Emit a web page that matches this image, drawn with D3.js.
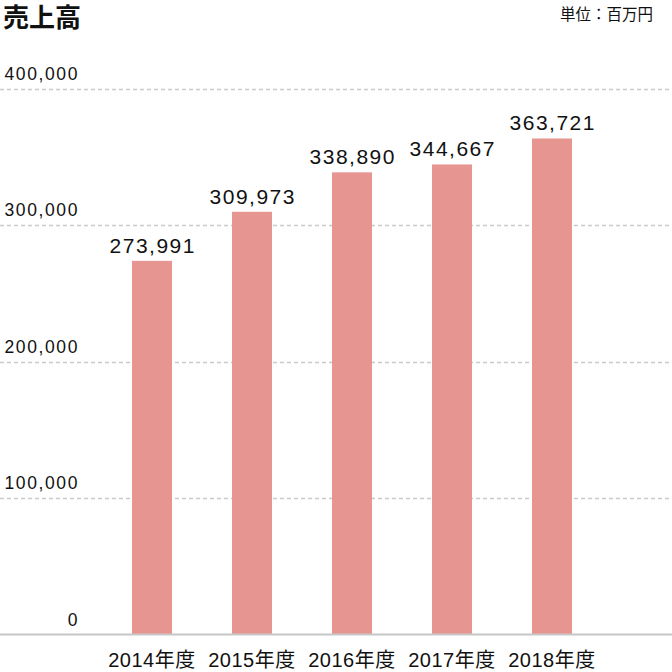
<!DOCTYPE html>
<html><head><meta charset="utf-8">
<script src="https://cdn.jsdelivr.net/npm/d3@7"></script>
<style>
html,body{margin:0;padding:0;background:#fff;}
svg{display:block;}
text{font-family:"Liberation Sans",Arial,"Noto Sans CJK JP",sans-serif;fill:#111;}
</style></head>
<body>
<svg id="c" width="672" height="672"></svg>
<script>
const title = "売上高";
const unitLabel = "単位：百万円";
const categories = ["2014年度","2015年度","2016年度","2017年度","2018年度"];
const sales = [273991, 309973, 338890, 344667, 363721];
const yTicks = [0, 100000, 200000, 300000, 400000];

const W = 672, H = 672;
const svg = d3.select("#c");

const x = d3.scaleBand().domain(categories).range([102, 602]).paddingInner(0.6).paddingOuter(0.3);
const y = d3.scaleLinear().domain([0, 400000]).range([634.5, 89]);
const fmt = d3.format(",");

// gridlines
svg.append("g").selectAll("line").data(yTicks.filter(d => d > 0)).join("line")
  .attr("x1", 0).attr("x2", W)
  .attr("y1", d => Math.round(y(d)) + 0.5).attr("y2", d => Math.round(y(d)) + 0.5)
  .attr("stroke", "#c9c9c9").attr("stroke-width", 1.5).attr("stroke-dasharray", "4,3");

// y tick labels
svg.append("g").selectAll("text").data(yTicks).join("text")
  .attr("x", 79).attr("y", d => y(d) - 9)
  .attr("text-anchor", "end")
  .style("font-size", "17.5px").style("letter-spacing", "1.6px")
  .text(d => fmt(d));

// bars
svg.append("g").selectAll("rect").data(sales).join("rect")
  .attr("x", (d, i) => x(categories[i]))
  .attr("width", x.bandwidth())
  .attr("y", d => y(d))
  .attr("height", d => y(0) - y(d))
  .attr("fill", "#e79590");

// baseline
svg.append("line").attr("x1", 0).attr("x2", W)
  .attr("y1", y(0)).attr("y2", y(0))
  .attr("stroke", "#c8c8c8").attr("stroke-width", 2);

// value labels
svg.append("g").selectAll("text").data(sales).join("text")
  .attr("x", (d, i) => x(categories[i]) + x.bandwidth() / 2 + 0.75)
  .attr("y", d => y(d) - 8)
  .attr("text-anchor", "middle")
  .style("font-size", "21px").style("letter-spacing", "1.5px")
  .text(d => fmt(d));

// x labels
svg.append("g").selectAll("text").data(categories).join("text")
  .attr("x", d => x(d) + x.bandwidth() / 2)
  .attr("y", 667)
  .attr("text-anchor", "middle")
  .style("font-size", "20px").style("letter-spacing", "0.5px")
  .text(d => d);

// title
svg.append("text").attr("x", 3).attr("y", 27)
  .style("font-family", "'Noto Sans CJK JP',sans-serif")
  .style("font-size", "26px").style("font-weight", "bold")
  .text(title);

svg.append("text").attr("x", 653).attr("y", 20)
  .attr("text-anchor", "end")
  .style("font-family", "'Noto Sans CJK JP',sans-serif")
  .style("font-size", "15.5px")
  .text(unitLabel);
</script>
</body></html>
